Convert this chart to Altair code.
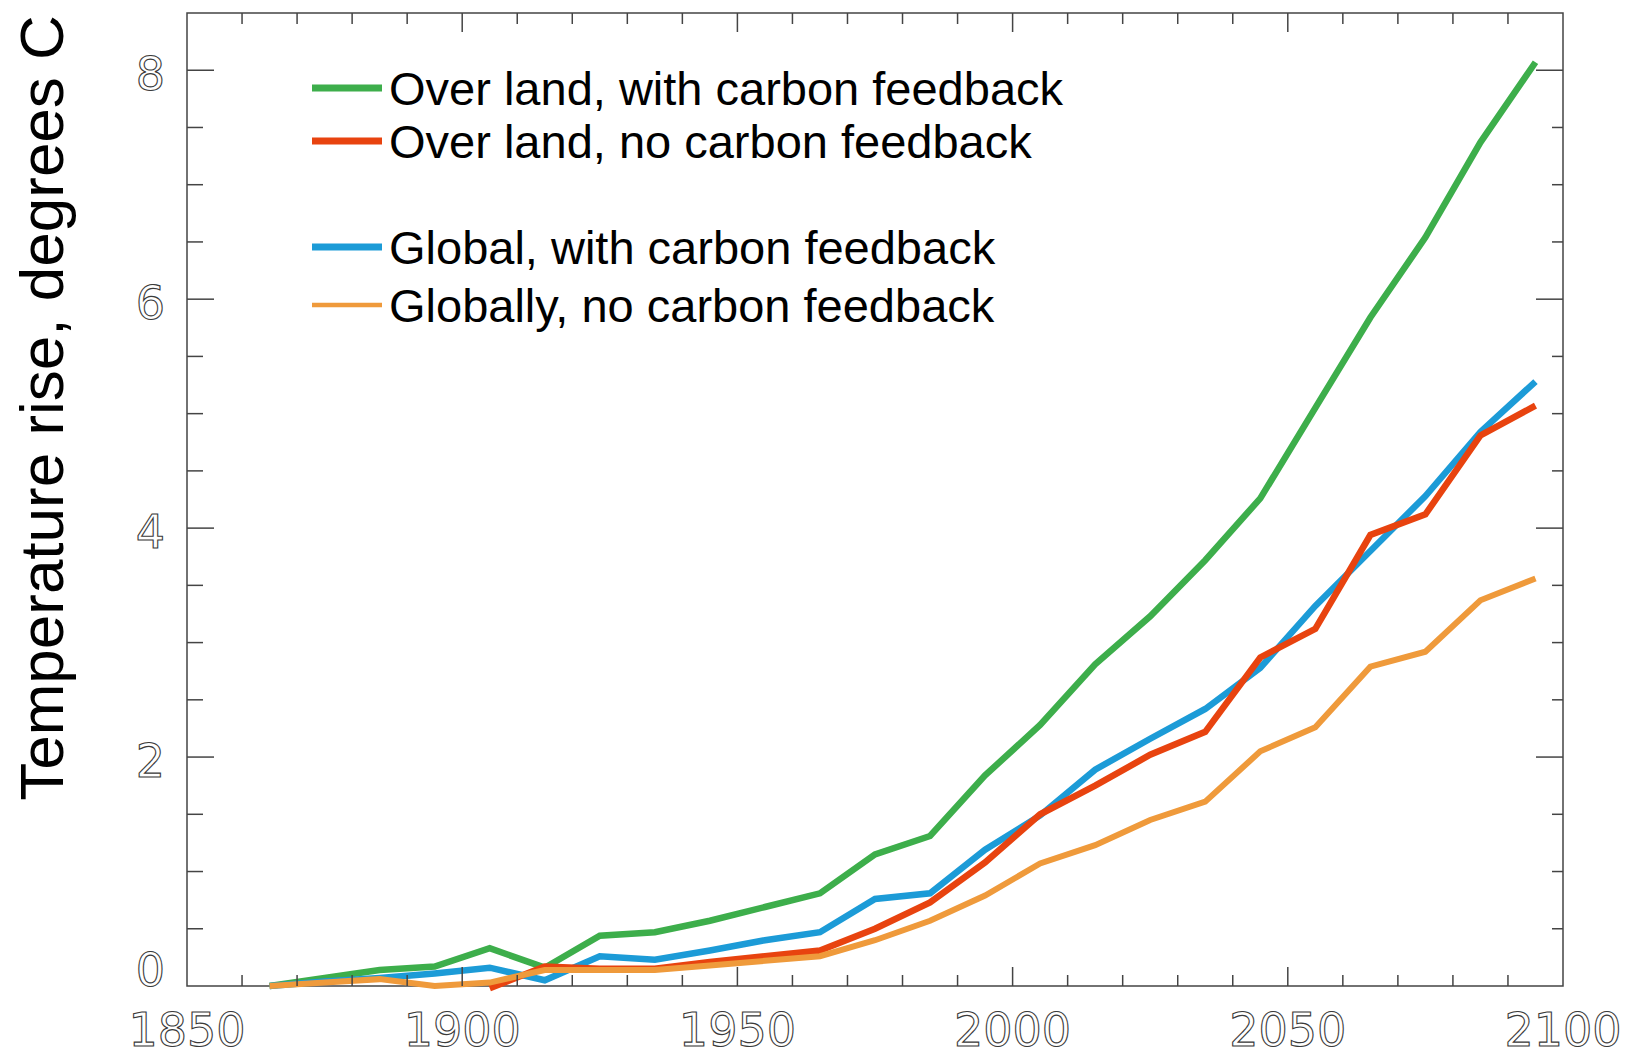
import altair as alt
import pandas as pd

# Decadal mean temperature rise (degrees C) relative to the pre-industrial baseline
years = list(range(1865, 2096, 10))

land_with_feedback = [0.00, 0.07, 0.14, 0.17, 0.33, 0.16, 0.44, 0.47, 0.57, 0.69,
                      0.81, 1.15, 1.31, 1.84, 2.28, 2.81, 3.23, 3.72, 4.26, 5.05,
                      5.84, 6.54, 7.37, 8.07]

global_with_feedback = [0.00, 0.04, 0.07, 0.11, 0.16, 0.05, 0.26, 0.23, 0.31, 0.40,
                        0.47, 0.76, 0.81, 1.19, 1.49, 1.89, 2.16, 2.42, 2.78, 3.32,
                        3.80, 4.28, 4.84, 5.28]

land_no_feedback_years = list(range(1905, 2096, 10))
land_no_feedback = [-0.02, 0.17, 0.15, 0.15, 0.21, 0.26, 0.31, 0.50, 0.73, 1.08,
                    1.50, 1.75, 2.02, 2.22, 2.87, 3.12, 3.94, 4.12, 4.81, 5.07]

global_no_feedback = [0.00, 0.03, 0.06, 0.00, 0.03, 0.14, 0.14, 0.14, 0.18, 0.22,
                      0.26, 0.40, 0.57, 0.79, 1.07, 1.23, 1.45, 1.61, 2.05, 2.26,
                      2.79, 2.92, 3.37, 3.56]

series_labels = ["Over land, with carbon feedback",
                 "Over land, no carbon feedback",
                 "Global, with carbon feedback",
                 "Globally, no carbon feedback"]
series_colors = ["#3dae4b", "#e8430f", "#1c9bd7", "#ef9a3b"]

x_tick_labels = [1850, 1900, 1950, 2000, 2050, 2100]
x_major_ticks = [1900, 1950, 2000, 2050]
x_minor_ticks = [y for y in range(1860, 2100, 10) if y not in x_major_ticks]
y_tick_labels = [0, 2, 4, 6, 8]
y_major_ticks = [2, 4, 6, 8]
y_minor_ticks = [v / 2 for v in range(1, 17) if v % 4 != 0]

y_title = "Temperature rise, degrees C"

# ---------------------------------------------------------------------------
W, H = 1376, 973
AXIS_COLOR = "#444444"
x_scale = alt.Scale(domain=[1850, 2100], nice=False, zero=False)
y_scale = alt.Scale(domain=[0, 8.5], nice=False, zero=False)


def xq(field):
    return alt.X(f"{field}:Q", scale=x_scale, axis=None)


def yq(field):
    return alt.Y(f"{field}:Q", scale=y_scale, axis=None)


def line(yrs, vals, color, width):
    df = pd.DataFrame({"year": yrs, "temp": vals})
    return alt.Chart(df).mark_line(color=color, strokeWidth=width).encode(
        x=xq("year"), y=yq("temp"))


lines = [
    line(years, land_with_feedback, series_colors[0], 6.5),
    line(years, global_with_feedback, series_colors[2], 6.5),
    line(land_no_feedback_years, land_no_feedback, series_colors[1], 6.5),
    line(years, global_no_feedback, series_colors[3], 6.0),
]


# Inward-pointing ticks on all four sides of the frame
def x_ticks(values, length):
    df = pd.DataFrame({"year": values})
    base = alt.Chart(df).mark_rule(color=AXIS_COLOR, strokeWidth=1.5)
    return [
        base.encode(x=xq("year"), y=alt.value(H), y2=alt.value(H - length)),
        base.encode(x=xq("year"), y=alt.value(0), y2=alt.value(length)),
    ]


def y_ticks(values, left_len, right_len):
    df = pd.DataFrame({"temp": values})
    base = alt.Chart(df).mark_rule(color=AXIS_COLOR, strokeWidth=1.5)
    return [
        base.encode(y=yq("temp"), x=alt.value(0), x2=alt.value(left_len)),
        base.encode(y=yq("temp"), x=alt.value(W), x2=alt.value(W - right_len)),
    ]


ticks = (x_ticks(x_minor_ticks, 11) + x_ticks(x_major_ticks, 19)
         + y_ticks(y_minor_ticks, 16, 11) + y_ticks(y_major_ticks, 27, 27))

# Outlined tick labels
label_style = dict(font="DejaVu Sans", fontSize=46, fill="white",
                   stroke="#3a3a3a", strokeWidth=1.1, baseline="alphabetic")

x_labels = alt.Chart(pd.DataFrame({"year": x_tick_labels})).mark_text(
    align="center", **label_style).encode(
    x=xq("year"), y=alt.value(H + 60), text=alt.Text("year:Q", format="d"))

y_labels = alt.Chart(pd.DataFrame({"temp": y_tick_labels[1:]})).mark_text(
    align="right", dy=20, **label_style).encode(
    x=alt.value(-22), y=yq("temp"), text=alt.Text("temp:Q", format="d"))

y_zero_label = alt.Chart(pd.DataFrame({"temp": y_tick_labels[:1]})).mark_text(
    align="right", dy=0, **label_style).encode(
    x=alt.value(-22), y=yq("temp"), text=alt.Text("temp:Q", format="d"))

title = alt.Chart(pd.DataFrame({"t": [y_title]})).mark_text(
    angle=270, font="Liberation Sans", fontSize=62, align="center",
    baseline="alphabetic", color="black").encode(
    x=alt.value(-124), y=alt.value(395), text="t:N")

# Legend drawn inside the plot, with a gap between land and global entries
legend_rows = [75, 128, 234, 292]
legend_widths = [7, 7, 7, 4.5]
legend = []
for label, color, row, w in zip(series_labels, series_colors, legend_rows, legend_widths):
    df = pd.DataFrame({"label": [label]})
    legend.append(alt.Chart(df).mark_rule(color=color, strokeWidth=w).encode(
        x=alt.value(125), x2=alt.value(195), y=alt.value(row)))
    legend.append(alt.Chart(df).mark_text(
        font="Liberation Sans", fontSize=47, align="left", baseline="alphabetic",
        color="black").encode(
        x=alt.value(202), y=alt.value(row + 17), text="label:N"))

chart = alt.layer(*lines, *ticks, x_labels, y_labels, y_zero_label, title, *legend).properties(
    width=W, height=H,
    padding={"left": 187, "top": 13, "right": 69, "bottom": 71},
    autosize=alt.AutoSizeParams(type="none"),
).configure_view(stroke=AXIS_COLOR, strokeWidth=1.5)

chart.save("out.html", embed_options={"renderer": "svg", "actions": False})
